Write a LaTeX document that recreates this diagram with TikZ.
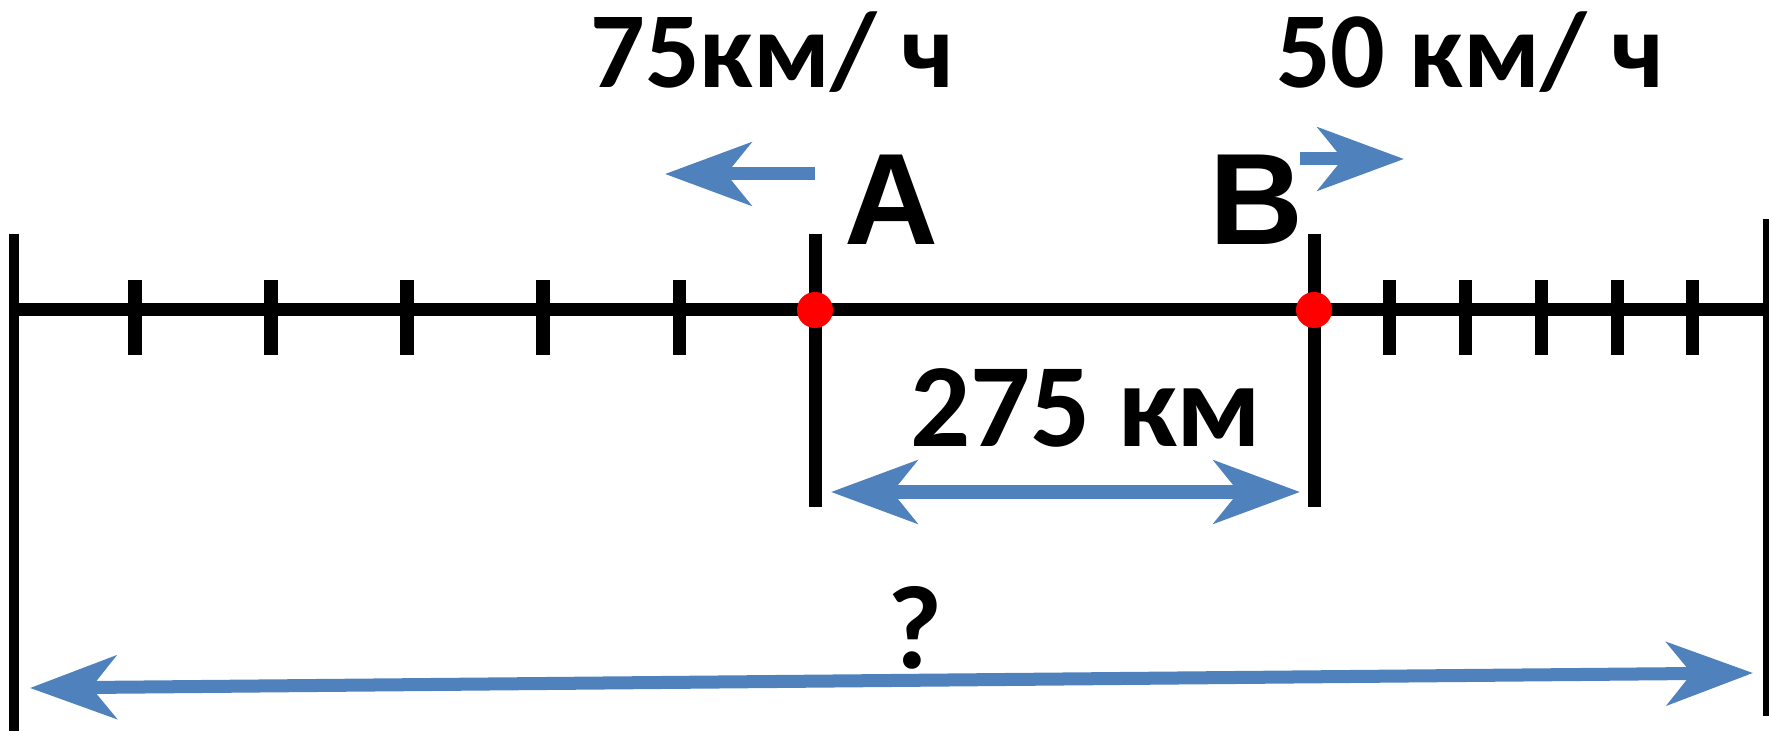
\documentclass[tikz,border=0pt]{standalone}
\usepackage{fontspec}
\setmainfont{Carlito}
\newfontfamily\pointfont{Liberation Sans}
\usetikzlibrary{arrows.meta,positioning}
\definecolor{moveblue}{HTML}{4F81BD}

\begin{document}
\begin{tikzpicture}[
    x=0.01cm, y=-0.01cm,
    axis/.style={line width=3.7pt},
    border/.style={line width=3pt},
    tickmark/.style={line width=3.7pt},
    spot/.style={circle, fill=red, minimum size=0.36cm, inner sep=0pt},
    motion/.style={-{Stealth[length=24.5pt, width=17.9pt, inset=7.1pt]}, line width=3.7pt, draw=moveblue},
    span/.style={{Stealth[length=24.5pt, width=17.9pt, inset=7.1pt]}-{Stealth[length=24.5pt, width=17.9pt, inset=7.1pt]}, line width=3.7pt, draw=moveblue},
    speed/.style={font=\bfseries\fontsize{30.7}{36}\selectfont, inner sep=0pt, anchor=base},
    dist/.style={font=\bfseries\fontsize{33.8}{40}\selectfont, inner sep=0pt, anchor=base},
    place/.style={font=\pointfont\bfseries\fontsize{37}{42}\selectfont, inner sep=0pt, anchor=base}
]
    \useasboundingbox (0,0) rectangle (1769,731);

    % road and its ends
    \coordinate (west) at (14,310);
    \coordinate (east) at (1766,310);
    \coordinate (pA) at (815,310);
    \coordinate (pB) at (1314,310);
    \draw[border] (14,234) -- (14,731);
    \draw[border, line width=1.8pt] (1766,219) -- (1766,716);
    \draw[axis] (west) -- (east);
    \draw[axis] (815,234) -- (815,507);
    \draw[axis] (1314,234) -- (1314,507);
    \foreach \x in {135,271,407,543,679,1389,1465,1541,1617,1692}
        \draw[tickmark] (\x,280) -- (\x,355);
    \node[spot] (dotA) at (pA) {};
    \node[spot] (dotB) at (pB) {};

    % labels
    \node[place] (nameA) at (891,245) {A};
    \node[place] (nameB) at (1256,245) {B};
    \node[speed] (vA) at (772,88) {75км/ ч};
    \node[speed] (vB) at (1470,88) {50 км/ ч};
    \node[dist] (gap) at (1086,447) {275 км};
    \node[dist] (ask) at (915,669) {?};

    % motion arrows
    \coordinate (aTail) at (815,174);
    \coordinate (aHead) at (665,174);
    \coordinate (bTail) at (1300,159);
    \coordinate (bHead) at (1404,159);
    \draw[motion] (aTail) -- (aHead);
    \draw[motion] (bTail) -- (bHead);
    \coordinate (gapL) at (831,492);
    \coordinate (gapR) at (1300,492);
    \draw[span] (gapL) -- (gapR);
    \coordinate (allL) at (30,688);
    \coordinate (allR) at (1753,673);
    \draw[span] (allL) -- (allR);
\end{tikzpicture}
\end{document}
